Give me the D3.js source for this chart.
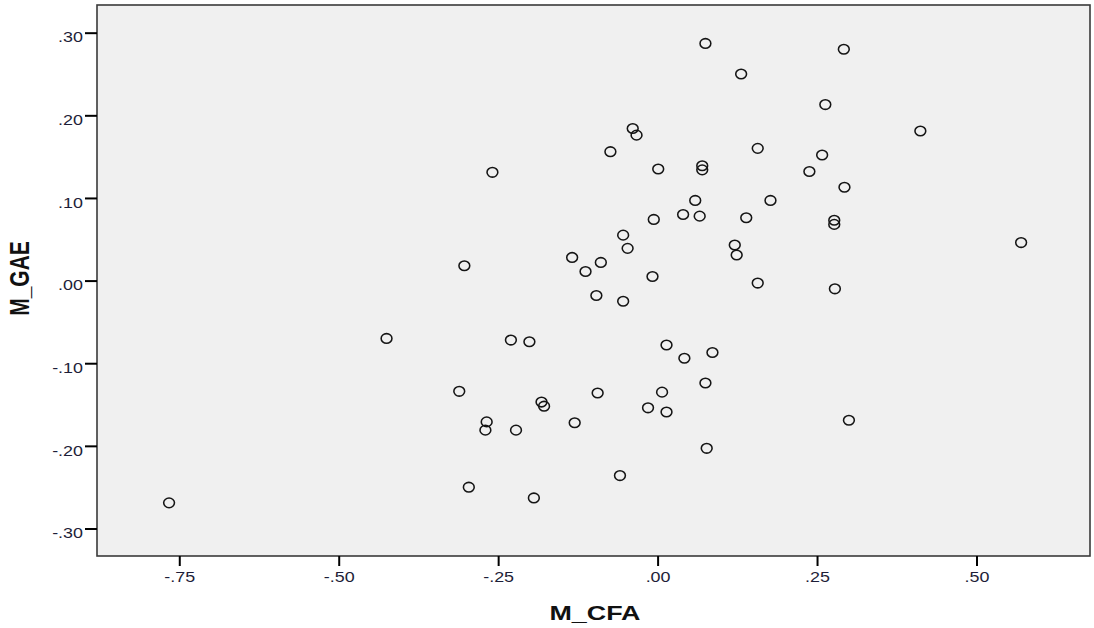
<!DOCTYPE html>
<html>
<head>
<meta charset="utf-8">
<script src="https://cdn.jsdelivr.net/npm/d3@7/dist/d3.min.js"></script>
<style>
  html, body { margin: 0; padding: 0; background: #fff; }
  svg { display: block; }
</style>
</head>
<body>
<svg id="chart" width="1094" height="628"></svg>
<script>
// ---- data ----
const xTitle = "M_CFA";
const yTitle = "M_GAE";
const xTickValues = [-0.75, -0.5, -0.25, 0, 0.25, 0.5];
const xTickLabels = ["-.75", "-.50", "-.25", ".00", ".25", ".50"];
const yTickValues = [0.3, 0.2, 0.1, 0, -0.1, -0.2, -0.3];
const yTickLabels = [".30", ".20", ".10", ".00", "-.10", "-.20", "-.30"];
const xDomain = [-0.879, 0.678];
const yDomain = [-0.3333, 0.3335];

const mCFA = [
  0.075, 0.131, -0.039, -0.033, -0.074, -0.259, 0.001, 0.070, 0.070, 0.157,
  0.059, 0.040, 0.066, -0.006, 0.139, 0.177, -0.054, -0.047, 0.121, 0.124,
  -0.134, -0.089, -0.113, -0.303, -0.008, 0.157, 0.292, 0.263, 0.412, 0.258,
  0.238, 0.293, 0.277, 0.277, 0.570, 0.278, -0.096, -0.054, -0.230, -0.201,
  0.014, 0.042, 0.086, -0.311, -0.094, -0.182, -0.178, 0.007, 0.075, -0.015,
  0.014, -0.268, -0.270, -0.222, -0.130, 0.077, -0.059, -0.296, -0.194, 0.300,
  -0.425, -0.766
];
const mGAE = [
  0.287, 0.250, 0.184, 0.176, 0.156, 0.131, 0.135, 0.139, 0.134, 0.160,
  0.097, 0.080, 0.078, 0.074, 0.076, 0.097, 0.055, 0.039, 0.043, 0.031,
  0.028, 0.022, 0.011, 0.018, 0.005, -0.003, 0.280, 0.213, 0.181, 0.152,
  0.132, 0.113, 0.073, 0.068, 0.046, -0.010, -0.018, -0.025, -0.072, -0.074,
  -0.078, -0.094, -0.087, -0.134, -0.136, -0.147, -0.152, -0.135, -0.124, -0.154,
  -0.159, -0.171, -0.181, -0.181, -0.172, -0.203, -0.236, -0.250, -0.263, -0.169,
  -0.070, -0.269
];

// ---- layout ----
const plot = { left: 97, top: 5, right: 1090, bottom: 556 };
const stretch = 1.28; // horizontal stretch of the reference text

const svg = d3.select("#chart");

const x = d3.scaleLinear().domain(xDomain).range([plot.left, plot.right]);
const y = d3.scaleLinear().domain(yDomain).range([plot.bottom, plot.top]);

// plot background
svg.append("rect")
  .attr("x", plot.left).attr("y", plot.top)
  .attr("width", plot.right - plot.left).attr("height", plot.bottom - plot.top)
  .attr("fill", "#f0f0f0");

// points
const pts = mCFA.map((v, i) => ({ x: v, y: mGAE[i] }));
svg.append("g").selectAll("ellipse")
  .data(pts).join("ellipse")
  .attr("cx", d => x(d.x))
  .attr("cy", d => y(d.y))
  .attr("rx", 5.4).attr("ry", 4.8)
  .attr("fill", "none")
  .attr("stroke", "#151515")
  .attr("stroke-width", 1.55);

// frame
svg.append("rect")
  .attr("x", plot.left).attr("y", plot.top)
  .attr("width", plot.right - plot.left).attr("height", plot.bottom - plot.top)
  .attr("fill", "none")
  .attr("stroke", "#3a3a3a")
  .attr("stroke-width", 1.6);

// y axis
const yAxis = d3.axisLeft(y)
  .tickValues(yTickValues)
  .tickFormat((d, i) => yTickLabels[i])
  .tickSize(12);
const gy = svg.append("g").attr("transform", `translate(${plot.left},0)`).call(yAxis);
gy.select(".domain").remove();
gy.selectAll(".tick line").attr("stroke", "#000").attr("stroke-width", 2);
gy.selectAll(".tick text")
  .attr("font-family", "'Liberation Sans', Arial, sans-serif")
  .attr("font-size", 14)
  .attr("fill", "#1e1e38")
  .attr("x", -14 / stretch)
  .attr("dy", 0)
  .attr("y", 9.2)
  .attr("transform", `scale(${stretch},1)`);

// x axis
const xAxis = d3.axisBottom(x)
  .tickValues(xTickValues)
  .tickFormat((d, i) => xTickLabels[i])
  .tickSize(10);
const gx = svg.append("g").attr("transform", `translate(0,${plot.bottom})`).call(xAxis);
gx.select(".domain").remove();
gx.selectAll(".tick line").attr("stroke", "#000").attr("stroke-width", 2);
gx.selectAll(".tick text")
  .attr("font-family", "'Liberation Sans', Arial, sans-serif")
  .attr("font-size", 14)
  .attr("fill", "#1e1e38")
  .attr("dy", 0)
  .attr("y", 25.7)
  .attr("transform", `scale(${stretch},1)`);

// axis titles
svg.append("text")
  .attr("transform", `translate(595,620.3) scale(${stretch},1)`)
  .attr("text-anchor", "middle")
  .attr("font-family", "'Liberation Sans', Arial, sans-serif")
  .attr("font-weight", "bold")
  .attr("font-size", 21)
  .attr("fill", "#111")
  .text(xTitle);

svg.append("text")
  .attr("transform", `translate(29.3,278.5) scale(${stretch},1) rotate(-90)`)
  .attr("text-anchor", "middle")
  .attr("font-family", "'Liberation Sans', Arial, sans-serif")
  .attr("font-weight", "bold")
  .attr("font-size", 21)
  .attr("fill", "#111")
  .text(yTitle);
</script>
</body>
</html>
